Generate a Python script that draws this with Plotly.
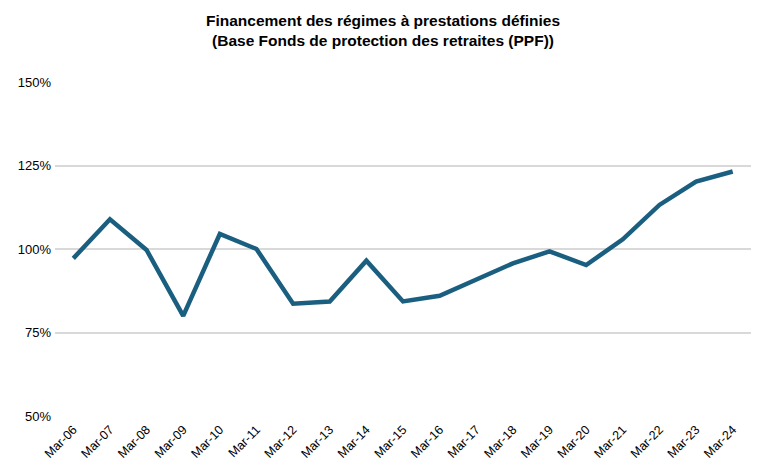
import plotly.graph_objects as go

periodes = ['Mar-06', 'Mar-07', 'Mar-08', 'Mar-09', 'Mar-10', 'Mar-11', 'Mar-12',
            'Mar-13', 'Mar-14', 'Mar-15', 'Mar-16', 'Mar-17', 'Mar-18', 'Mar-19',
            'Mar-20', 'Mar-21', 'Mar-22', 'Mar-23', 'Mar-24']
financement = [0.972, 1.089, 0.997, 0.800, 1.045, 1.000, 0.836, 0.843, 0.965,
               0.843, 0.860, 0.907, 0.957, 0.993, 0.952, 1.029, 1.132, 1.202, 1.232]

titre = ('<b>Financement des régimes à prestations définies</b><br>'
         '<b>(Base Fonds de protection des retraites (PPF))</b>')

# la page a une marge de 8px autour du graphique
fig = go.Figure()
fig.add_trace(go.Scatter(x=periodes, y=financement, mode='lines',
                         line=dict(color='#1b5f80', width=4.5)))

fig.update_layout(
    width=750, height=453,
    title=dict(text=titre, x=0.5, xanchor='center', y=0.96, yanchor='top',
               font=dict(family='Liberation Sans, Arial', size=15.5, color='#000000')),
    margin=dict(l=47, r=7, t=74, b=45),
    plot_bgcolor='white', paper_bgcolor='white',
    showlegend=False,
    font=dict(family='Liberation Sans, Arial', size=12, color='#000000'),
)
fig.update_xaxes(range=[-0.5, 18.5], tickangle=-45, showgrid=False,
                 showline=False, ticks='', tickfont=dict(size=12.5),
                 automargin=False, ticklabelstandoff=3)
fig.update_yaxes(range=[0.5, 1.5], dtick=0.25, tickformat='.0%',
                 showgrid=True, gridcolor='#d9d9d9', gridwidth=1.5,
                 zeroline=False, showline=False, ticks='', ticklabelstandoff=3,
                 tickfont=dict(size=13), automargin=False)

fig.write_html('out.html')
